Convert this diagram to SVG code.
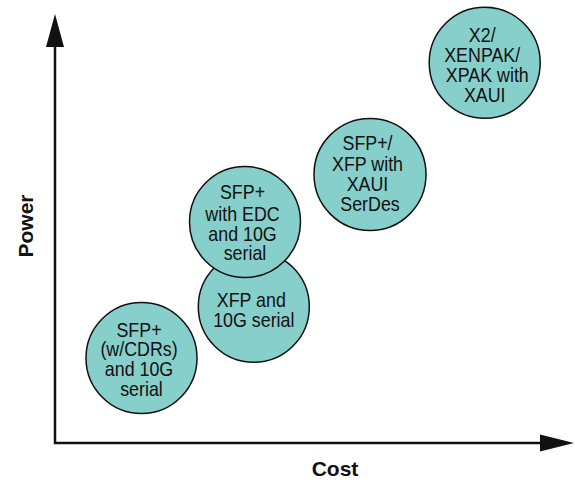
<svg xmlns="http://www.w3.org/2000/svg" width="575" height="483" viewBox="0 0 575 483">
  <style>
    .bubble { fill: #86cfcb; stroke: #111; stroke-width: 1.5; }
    .lbl { font-family: "Liberation Sans", Arial, sans-serif; font-size: 21px; fill: #111; text-anchor: middle; }
    .axis-title { font-family: "Liberation Sans", Arial, sans-serif; font-size: 21px; font-weight: bold; fill: #111; text-anchor: middle; }
    .axis { stroke: #111; stroke-width: 2.5; fill: none; }
    .head { fill: #111; }
  </style>
  <rect width="575" height="483" fill="#fff"/>

  <!-- axes -->
  <g id="connectors">
    <polyline class="axis" points="55,45 55,443 542,443"/>
    <polygon class="head" points="55,14 46,47 64,47"/>
    <polygon class="head" points="574,443 540,434.5 540,451.5"/>
  </g>

  <text class="axis-title" transform="translate(33,226) rotate(-90)">Power</text>
  <text class="axis-title" x="335" y="476">Cost</text>

  <g id="node-sfp-cdr">
    <circle class="bubble" cx="141.5" cy="358" r="55.5"/>
    <text class="lbl" transform="matrix(0.85 0 0 1 141.5 0)">
      <tspan x="0" y="337.3">SFP+</tspan>
      <tspan x="0" y="356.5">(w/CDRs)</tspan>
      <tspan x="0" y="376">and 10G</tspan>
      <tspan x="0" y="395.7">serial</tspan>
    </text>
  </g>

  <g id="node-xfp-serial">
    <circle class="bubble" cx="253.8" cy="306.8" r="55.5"/>
    <text class="lbl" transform="matrix(0.85 0 0 1 253.8 0)">
      <tspan x="0" y="306.7">XFP and</tspan>
      <tspan x="0" y="326.7">10G serial</tspan>
    </text>
  </g>

  <g id="node-sfp-edc">
    <circle class="bubble" cx="245" cy="222" r="55.5"/>
    <text class="lbl" transform="matrix(0.85 0 0 1 245 0)">
      <tspan x="0" y="199.3">SFP+</tspan>
      <tspan x="0" y="221">with EDC</tspan>
      <tspan x="0" y="241">and 10G</tspan>
      <tspan x="0" y="260.5">serial</tspan>
    </text>
  </g>

  <g id="node-xaui-serdes">
    <circle class="bubble" cx="370" cy="174.5" r="56"/>
    <text class="lbl" transform="matrix(0.85 0 0 1 370 0)">
      <tspan x="0" y="150.5">SFP+/</tspan>
      <tspan x="0" y="171">XFP with</tspan>
      <tspan x="0" y="191.5">XAUI</tspan>
      <tspan x="0" y="211.5">SerDes</tspan>
    </text>
  </g>

  <g id="node-x2-xenpak">
    <circle class="bubble" cx="484.7" cy="62.8" r="55.5"/>
    <text class="lbl" transform="matrix(0.85 0 0 1 484.7 0)">
      <tspan x="0" y="42.3">X2/</tspan>
      <tspan x="0" y="62.5">XENPAK/</tspan>
      <tspan x="6" y="82.5">XPAK with</tspan>
      <tspan x="0" y="101.7">XAUI</tspan>
    </text>
  </g>
</svg>
